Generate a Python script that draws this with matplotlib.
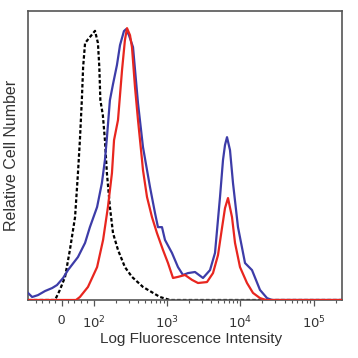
import matplotlib
matplotlib.use("Agg")
import matplotlib.pyplot as plt
import numpy as np

# ---- data (fluorescence intensity vs relative count) ----
iso_x = [-104, -20, -5, 11, 26, 42, 51, 57, 63, 67, 73, 88, 104, 114, 119, 123, 133, 142, 151,
         166, 183, 214, 266, 332, 469, 800, 1095, 13500, 243000]
iso_y = [0, 0, 3.7, 8.5, 18.4, 30.5, 46.7, 58.8, 73.5, 85.7, 94.5, 96.7, 99, 94.5, 85.7, 73.5,
         68, 58.8, 46.7, 34.2, 24.6, 18.4, 12.1, 8.5, 4.8, 1.1, 0, 0, 0]

red_x = [-104, 45, 57, 82, 111, 134, 156, 177, 189, 214, 243, 266, 284, 312, 332, 365, 401, 455,
         469, 532, 622, 728, 879, 1029, 1204, 1408, 1754, 2186, 2640, 3501, 4229, 4946, 5610,
         6164, 6773, 7678, 8442, 9874, 12300, 14850, 18500, 22340, 243000]
red_y = [0, 0, 1.1, 4.8, 12.1, 22.1, 34.2, 46.7, 58.8, 66.2, 84.6, 95.6, 100, 97.4, 93, 78.3,
         66.2, 51.5, 47.8, 37.9, 30.5, 24.6, 18.4, 13.6, 8.1, 8.5, 9.2, 7.4, 6.25, 6.6, 9.9,
         16.5, 26.5, 33.8, 37.5, 30.5, 21, 12.1, 6.25, 2.6, 0.7, 0, 0]

blue_x = [-104, -91, -73, -51, -29, -14, 5, 20, 51, 73, 88, 111, 129, 142, 151, 166, 183, 207,
          228, 258, 275, 302, 343, 401, 469, 585, 684, 751, 852, 936, 1166, 1408, 1648, 1928,
          2402, 3089, 3850, 4503, 5270, 5789, 6164, 6567, 7213, 7925, 9270, 11560, 14390,
          18500, 23060, 26980, 243000]
blue_y = [2.6, 1.1, 1.8, 3.3, 4.4, 5.5, 8.1, 11, 15.8, 21, 26.8, 34.2, 43, 51.5, 59.6, 73.5,
          79.4, 86.4, 93.75, 98.9, 99.6, 97.4, 93, 72.4, 56.25, 41.5, 32, 26.8, 26.8, 22.1,
          17.3, 12.1, 9.2, 9.9, 10.3, 8.1, 11, 17.3, 37.9, 51.5, 57, 59.9, 55.1, 43, 26.8,
          13.6, 11, 3.7, 0.7, 0, 0]

major_ticks = [0, 100, 1000, 10000, 100000]
major_labels = ["0", "$10^{2}$", "$10^{3}$", "$10^{4}$", "$10^{5}$"]
minor_ticks = ([-80, -60, -40, -20, 20, 40, 60, 80]
               + [m * 10 ** k for k in (2, 3, 4) for m in range(2, 10)] + [200000])

fig = plt.figure(figsize=(3.58, 3.58), dpi=100)
ax = fig.add_axes([28 / 358, 58 / 358, 314 / 358, 289 / 358])

ax.plot(iso_x, iso_y, color="black", lw=1.6, linestyle=(0, (1.6, 1.0)), zorder=2)
ax.plot(blue_x, blue_y, color="#3d3ca8", lw=1.6, zorder=3)
ax.plot(red_x, red_y, color="#e8261f", lw=1.6, zorder=4)

ax.set_xscale("symlog", linthresh=100, linscale=0.396)
ax.set_xlim(-104, 243000)
ax.set_ylim(0, 106.3)

ax.set_xticks(major_ticks)
ax.set_xticklabels(major_labels)
ax.set_xticks(minor_ticks, minor=True)
ax.set_yticks([])

for s in ax.spines.values():
    s.set_color("#555555")
    s.set_linewidth(1.2)

ax.tick_params(axis="x", which="major", direction="out", length=4.5, width=0.9,
               color="#555555", pad=6, labelsize=9.5, labelcolor="#333333")
ax.tick_params(axis="x", which="minor", direction="out", length=2.5, width=0.8,
               color="#555555")
for lab in ax.get_xticklabels():
    lab.set_family("Liberation Sans")

ax.set_xlabel("Log Fluorescence Intensity", fontsize=11, color="#333333",
              family="Liberation Sans")
ax.xaxis.set_label_coords(0.52, -0.112)
ax.set_ylabel("Relative Cell Number", fontsize=11.5, color="#333333",
              family="Liberation Sans")
ax.yaxis.set_label_coords(-0.03, 0.5)

fig.savefig("out.png", dpi=100)
